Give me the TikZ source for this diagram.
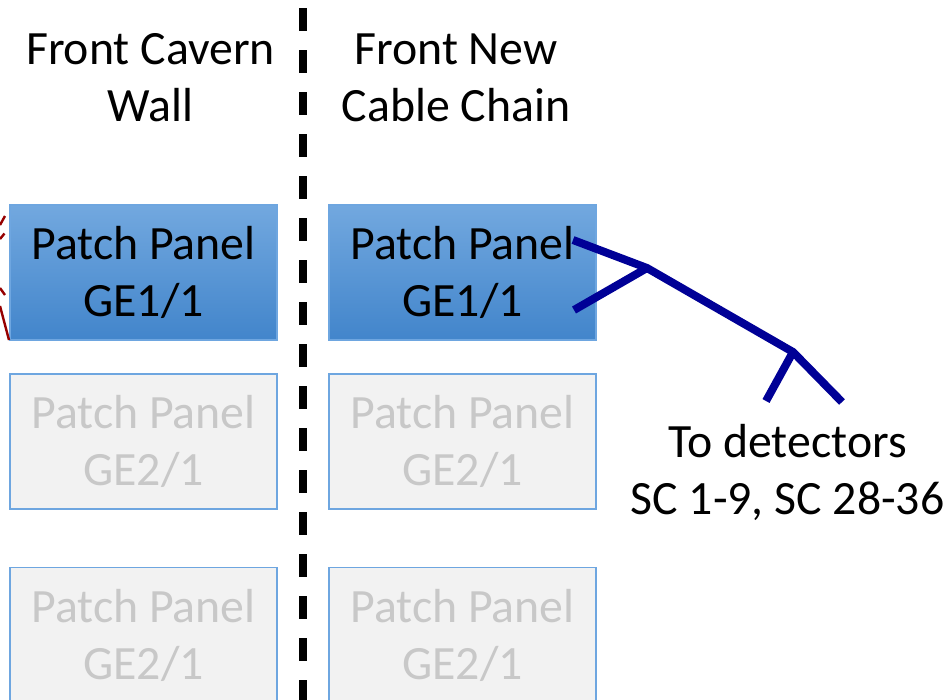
\documentclass[tikz,border=0pt]{standalone}
\usepackage{fontspec}
\setmainfont{Carlito}
\definecolor{boxtop}{RGB}{114,168,223}
\definecolor{boxbot}{RGB}{66,133,203}
\definecolor{boxedge}{RGB}{110,166,224}
\definecolor{greyfill}{RGB}{242,242,242}
\definecolor{greytext}{RGB}{200,200,200}
\definecolor{cablenavy}{RGB}{0,0,150}
\definecolor{cablered}{RGB}{150,0,0}
\tikzset{
  panel/.style={rectangle, minimum width=267pt, minimum height=135pt,
    inner sep=0pt, align=center, draw=boxedge, line width=1.2pt,
    font=\fontsize{47.8}{57}\selectfont},
  activepanel/.style={panel, top color=boxtop, bottom color=boxbot, text=black},
  idlepanel/.style={panel, fill=greyfill, text=greytext},
  heading/.style={align=center, inner sep=0pt,
    font=\fontsize{47.8}{57}\selectfont},
  cable/.style={draw=cablenavy, line width=8pt},
  redcable/.style={draw=cablered, line width=2.4pt},
  divider/.style={draw=black, line width=8pt, dash pattern=on 23pt off 19pt}
}
\begin{document}
\begin{tikzpicture}[x=1pt, y=-1pt]
\useasboundingbox (0,0) rectangle (949,699);
\begin{scope}
\clip (0,0) rectangle (949,699);

% headings
\node[heading] (wallhead) at (150.5,78) {Front Cavern\\Wall};
\node[heading] (chainhead) at (456,78) {Front New\\Cable Chain};

% dividing line between wall and cable chain
\coordinate (divtop) at (303,8);
\coordinate (divbot) at (303,720);
\draw[divider] (divtop) -- (divbot);

% patch panels, wall side
\node[activepanel] (wall1) at (143.5,272.5) {Patch Panel\\GE1/1};
\node[idlepanel] (wall2) at (143.5,441.5) {Patch Panel\\GE2/1};
\node[idlepanel] (wall3) at (143.5,635) {Patch Panel\\GE2/1};

% patch panels, cable chain side
\node[activepanel] (chain1) at (462.5,272.5) {Patch Panel\\GE1/1};
\node[idlepanel] (chain2) at (462.5,441.5) {Patch Panel\\GE2/1};
\node[idlepanel] (chain3) at (462.5,635) {Patch Panel\\GE2/1};

% incoming cables at the wall panel
\coordinate (r1a) at (0,225); \coordinate (r1b) at (5,216);
\coordinate (r2a) at (0,239); \coordinate (r2b) at (4.5,233.5);
\coordinate (r3a) at (0,288); \coordinate (r3b) at (5,295);
\coordinate (r4a) at (0,306); \coordinate (r4b) at (9,340);
\draw[redcable] (r1a) -- (r1b);
\draw[redcable] (r2a) -- (r2b);
\draw[redcable] (r3a) -- (r3b);
\draw[redcable] (r4a) -- (r4b);

% cable bundle to the detectors
\coordinate (c1) at (573,240);
\coordinate (c2) at (574,310);
\coordinate (j1) at (647,268);
\coordinate (j2) at (793,352);
\coordinate (d1) at (766,401);
\coordinate (d2) at (842,402);
\draw[cable] (c1) -- (j1) -- (j2) -- (d2);
\draw[cable] (c2) -- (j1);
\draw[cable] (j2) -- (d1);

\node[heading] (dets) at (787.5,472) {To detectors\\SC 1-9, SC 28-36};
\end{scope}
\end{tikzpicture}
\end{document}
